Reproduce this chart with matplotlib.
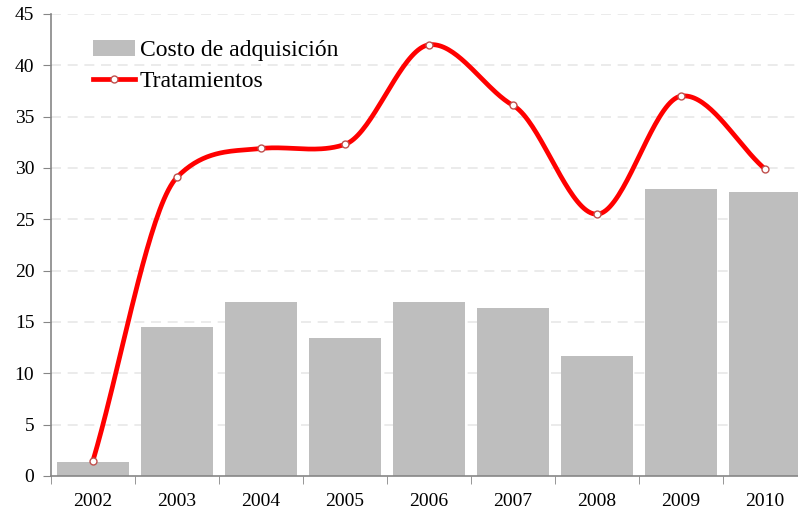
import numpy as np
import matplotlib.pyplot as plt

years = ['2002', '2003', '2004', '2005', '2006', '2007', '2008', '2009', '2010']
costo = [1.4, 14.5, 16.9, 13.4, 16.9, 16.4, 11.7, 28.0, 27.7]
tratamientos = [1.5, 29.1, 31.9, 32.3, 42.0, 36.1, 25.5, 37.0, 29.9]

plt.rcParams['font.family'] = ['Liberation Serif', 'DejaVu Serif']

# smoothed line through the points (cardinal spline, lower tension like the original)
def smooth(xs, ys, n=40, k=0.55):
    xs = np.asarray(xs, float)
    ys = np.asarray(ys, float)
    m = np.zeros_like(ys)
    m[1:-1] = k * (ys[2:] - ys[:-2]) / 2
    m[0] = ys[1] - ys[0]
    m[-1] = ys[-1] - ys[-2]
    out_x, out_y = [], []
    t = np.linspace(0, 1, n)
    h00 = 2 * t ** 3 - 3 * t ** 2 + 1
    h10 = t ** 3 - 2 * t ** 2 + t
    h01 = -2 * t ** 3 + 3 * t ** 2
    h11 = t ** 3 - t ** 2
    for i in range(len(xs) - 1):
        out_y.append(h00 * ys[i] + h10 * m[i] + h01 * ys[i + 1] + h11 * m[i + 1])
        out_x.append(xs[i] + (xs[i + 1] - xs[i]) * t)
    return np.concatenate(out_x), np.concatenate(out_y)

fig = plt.figure(figsize=(7.98, 5.16), dpi=100)
ax = fig.add_axes([51 / 798, 40 / 516, 756 / 798, 462 / 516])

x = np.arange(len(years))
bars = ax.bar(x, costo, width=0.85, color='#bebebe', label='Costo de adquisición', zorder=2)

sx, sy = smooth(x, tratamientos)
ax.plot(sx, sy, color='#ff0000', lw=3.4, zorder=3, solid_capstyle='round')
ax.plot(x, tratamientos, ls='none', marker='o', ms=5, mfc='white', mec='#c0504d', mew=1.0, zorder=4)
# legend proxy
line_h, = ax.plot([], [], color='#ff0000', lw=3.4, marker='o', ms=5, mfc='white', mec='#c0504d',
                  label='Tratamientos')

ax.set_xlim(-0.5, len(years) - 0.5)
ax.set_ylim(0, 45)
ax.set_yticks(range(0, 46, 5))
ax.set_xticks(x)
ax.set_xticklabels(years)
ax.set_xticks(np.arange(-0.5, len(years), 1), minor=True)
ax.tick_params(axis='x', which='major', length=0, pad=12, labelsize=14)
ax.tick_params(axis='x', which='minor', length=6, color='#868686', direction='out')
ax.tick_params(axis='y', length=6, color='#868686', labelsize=14, pad=6)

for yv in range(5, 46, 5):
    ax.axhline(yv, color='#e8e8e8', lw=1.2, ls=(0, (6, 4)), zorder=1)

for s in ['top', 'right']:
    ax.spines[s].set_visible(False)
ax.spines['left'].set_color('#868686')
ax.spines['bottom'].set_color('#868686')
ax.spines['left'].set_linewidth(1.2)
ax.spines['bottom'].set_linewidth(1.2)

ax.legend([bars, line_h], ['Costo de adquisición', 'Tratamientos'],
          loc='upper left', bbox_to_anchor=(0.027, 0.99), frameon=False, fontsize=17,
          handlelength=1.8, handletextpad=0.2, labelspacing=0.4)

fig.savefig('out.png', dpi=100)
